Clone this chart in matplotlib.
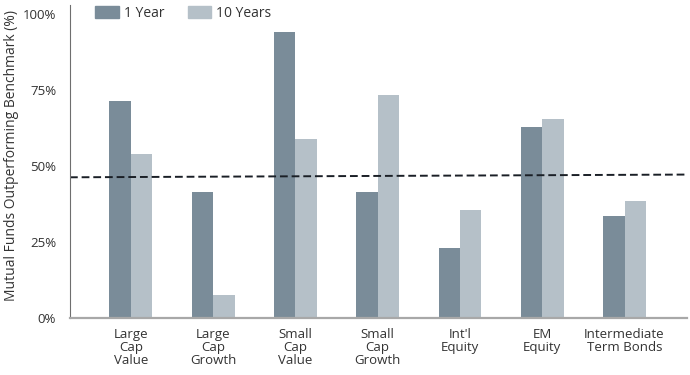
import numpy as np
import matplotlib.pyplot as plt
from matplotlib.patches import Patch

categories = ["Large\nCap\nValue", "Large\nCap\nGrowth", "Small\nCap\nValue", "Small\nCap\nGrowth",
              "Int'l\nEquity", "EM\nEquity", "Intermediate\nTerm Bonds"]
one_year = [71.5, 41.5, 94, 41.5, 23, 63, 33.5]
ten_years = [54, 7.5, 59, 73.5, 35.5, 65.5, 38.5]
benchmark = [46.3, 47.2]
yticks = [0, 25, 50, 75, 100]
ytick_labels = ["0%", "25%", "50%", "75%", "100%"]

c1 = "#7a8c99"
c10 = "#b5c0c8"

plt.rcParams["font.family"] = ["Open Sans", "DejaVu Sans"]

fig = plt.figure(figsize=(6.9, 3.75), dpi=100)
ax = fig.add_axes([0.1014, 0.152, 0.8943, 0.8347])

x = np.arange(len(categories))
w = 0.26
ax.bar(x - w / 2, one_year, w, color=c1, label="1 Year")
ax.bar(x + w / 2, ten_years, w, color=c10, label="10 Years")

xlim = (-0.74, 6.76)
ax.plot(xlim, benchmark, color="#1a1f26", linestyle=(0, (4, 2)), linewidth=1.4)

ax.set_xlim(*xlim)
ax.set_ylim(0, 103)
ax.set_xticks(x)
ax.set_xticklabels(categories, fontsize=9.5, color="#333333", linespacing=1.0)
ax.set_yticks(yticks)
ax.set_yticklabels(ytick_labels, fontsize=9.5, color="#333333")
ax.tick_params(length=0, pad=7)
ax.tick_params(axis="y", pad=10)

for s in ["top", "right"]:
    ax.spines[s].set_visible(False)
ax.spines["left"].set_color("#6e6e6e")
ax.spines["left"].set_linewidth(0.8)
ax.spines["bottom"].set_color("#a8a8a8")
ax.spines["bottom"].set_linewidth(1.6)

ax.set_ylabel("Mutual Funds Outperforming Benchmark (%)", fontsize=10, color="#333333")
ax.yaxis.set_label_coords(-0.083, 0.52)

handles = [Patch(color=c1), Patch(color=c10)]
fig.legend(handles, ["1 Year", "10 Years"], loc="upper left", bbox_to_anchor=(0.12, 1.018),
           ncol=2, frameon=False, fontsize=10, handlelength=1.7, handleheight=1.0,
           columnspacing=1.7, handletextpad=0.35, labelcolor="#333333")

fig.savefig("out.png", dpi=100)
